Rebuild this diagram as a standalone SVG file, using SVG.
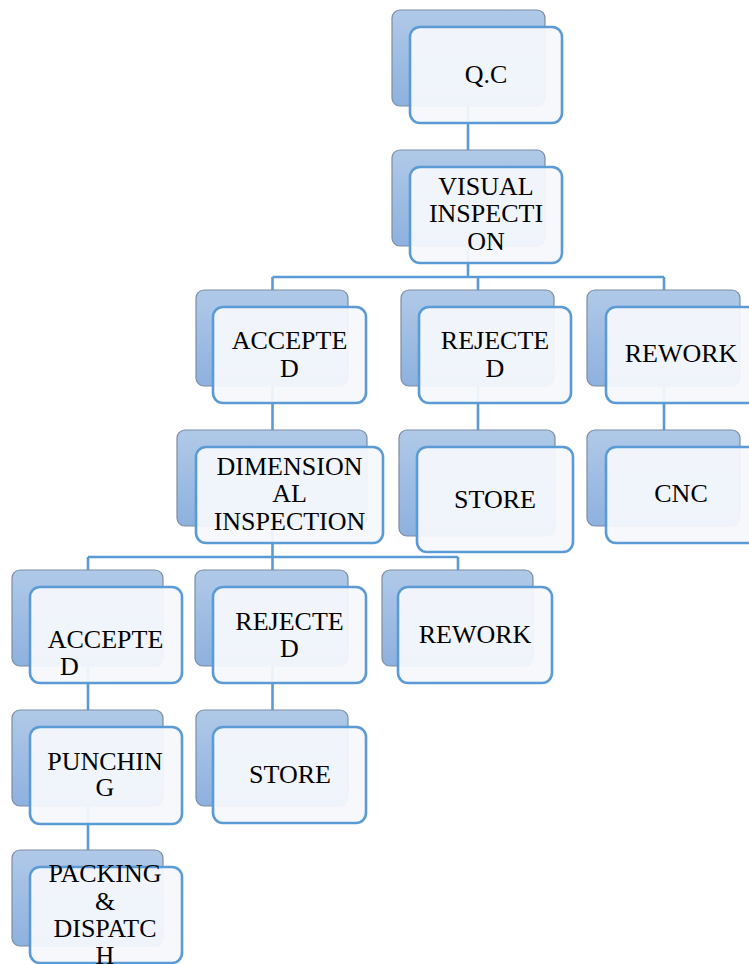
<svg xmlns="http://www.w3.org/2000/svg" width="749" height="964" viewBox="0 0 749 964">
<defs>
<linearGradient id="bg" x1="0" y1="0" x2="0" y2="1">
<stop offset="0" stop-color="#B0C9E8"/>
<stop offset="1" stop-color="#8DB1DE"/>
</linearGradient>
<style>
.back{fill:url(#bg);stroke:#7D8CA3;stroke-width:1.2}
.front{fill:#F5F8FC;fill-opacity:0.94;stroke:#5B9BD5;stroke-width:2.6}
.ln{stroke:#5B9BD5;stroke-width:2.6;fill:none}
text{font-family:"Liberation Serif","Times New Roman",serif;font-size:26px;fill:#000}
.c{text-anchor:middle}
</style>
</defs>
<rect width="749" height="964" fill="#fff"/>
<g id="connectors">
<path class="ln" d="M468,58V198"/>
<path class="ln" d="M468,198V277M272.5,277H664M272.5,277V338M478,277V338M664,277V338"/>
<path class="ln" d="M272.5,338V478"/>
<path class="ln" d="M478,338V483"/>
<path class="ln" d="M664,338V478"/>
<path class="ln" d="M272.5,478V557M88,557H458M88,557V618M272.5,557V618M458,557V618"/>
<path class="ln" d="M88,618V898"/>
<path class="ln" d="M272.5,618V758"/>
</g>
<g id="qc">
<rect class="back" x="392" y="10" width="153" height="96" rx="8"/>
<rect class="front" x="410" y="27" width="152" height="96" rx="10"/>
<text class="c" x="486" y="83">Q.C</text>
</g>
<g id="visual">
<rect class="back" x="392" y="150" width="153" height="96" rx="8"/>
<rect class="front" x="410" y="167" width="152" height="96" rx="10"/>
<text class="c" x="486" y="195">VISUAL</text>
<text class="c" x="486" y="222">INSPECTI</text>
<text class="c" x="486" y="250">ON</text>
</g>
<g id="accepted1">
<rect class="back" x="196" y="290" width="152" height="96" rx="8"/>
<rect class="front" x="213" y="307" width="153" height="96" rx="10"/>
<text class="c" x="289.5" y="349">ACCEPTE</text>
<text class="c" x="289.5" y="377">D</text>
</g>
<g id="rejected1">
<rect class="back" x="401" y="290" width="153" height="96" rx="8"/>
<rect class="front" x="419" y="307" width="152" height="96" rx="10"/>
<text class="c" x="495" y="349">REJECTE</text>
<text class="c" x="495" y="377">D</text>
</g>
<g id="rework1">
<rect class="back" x="587" y="290" width="153" height="96" rx="8"/>
<rect class="front" x="606" y="307" width="152" height="96" rx="10"/>
<text class="c" x="681" y="362">REWORK</text>
</g>
<g id="dimensional">
<rect class="back" x="177" y="430" width="190" height="96" rx="8"/>
<rect class="front" x="196" y="447" width="187" height="96" rx="10"/>
<text class="c" x="289.5" y="475">DIMENSION</text>
<text class="c" x="289.5" y="502">AL</text>
<text class="c" x="289.5" y="530">INSPECTION</text>
</g>
<g id="store1">
<rect class="back" x="399" y="430" width="156" height="106" rx="8"/>
<rect class="front" x="417" y="447" width="156" height="105" rx="10"/>
<text class="c" x="495" y="508">STORE</text>
</g>
<g id="cnc">
<rect class="back" x="587" y="430" width="153" height="96" rx="8"/>
<rect class="front" x="606" y="447" width="152" height="96" rx="10"/>
<text class="c" x="681" y="502">CNC</text>
</g>
<g id="accepted2">
<rect class="back" x="12" y="570" width="151" height="96" rx="8"/>
<rect class="front" x="30" y="587" width="152" height="96" rx="10"/>
<text class="c" x="105.5" y="648">ACCEPTE</text>
<text x="60" y="675">D</text>
</g>
<g id="rejected2">
<rect class="back" x="195" y="570" width="153" height="96" rx="8"/>
<rect class="front" x="213" y="587" width="153" height="96" rx="10"/>
<text class="c" x="289.5" y="630">REJECTE</text>
<text class="c" x="289.5" y="657">D</text>
</g>
<g id="rework2">
<rect class="back" x="382" y="570" width="151" height="96" rx="8"/>
<rect class="front" x="398" y="587" width="154" height="96" rx="10"/>
<text class="c" x="475" y="643">REWORK</text>
</g>
<g id="punching">
<rect class="back" x="12" y="710" width="151" height="96" rx="8"/>
<rect class="front" x="30" y="727" width="152" height="97" rx="10"/>
<text class="c" x="105" y="770">PUNCHIN</text>
<text class="c" x="105" y="796">G</text>
</g>
<g id="store2">
<rect class="back" x="196" y="710" width="152" height="96" rx="8"/>
<rect class="front" x="213" y="727" width="153" height="96" rx="10"/>
<text class="c" x="290" y="783">STORE</text>
</g>
<g id="packing">
<rect class="back" x="12" y="850" width="151" height="96" rx="8"/>
<rect class="front" x="30" y="867" width="152" height="96" rx="10"/>
<text class="c" x="105" y="882">PACKING</text>
<text class="c" x="105" y="910">&amp;</text>
<text class="c" x="105" y="937">DISPATC</text>
<text class="c" x="105" y="964">H</text>
</g>
</svg>
